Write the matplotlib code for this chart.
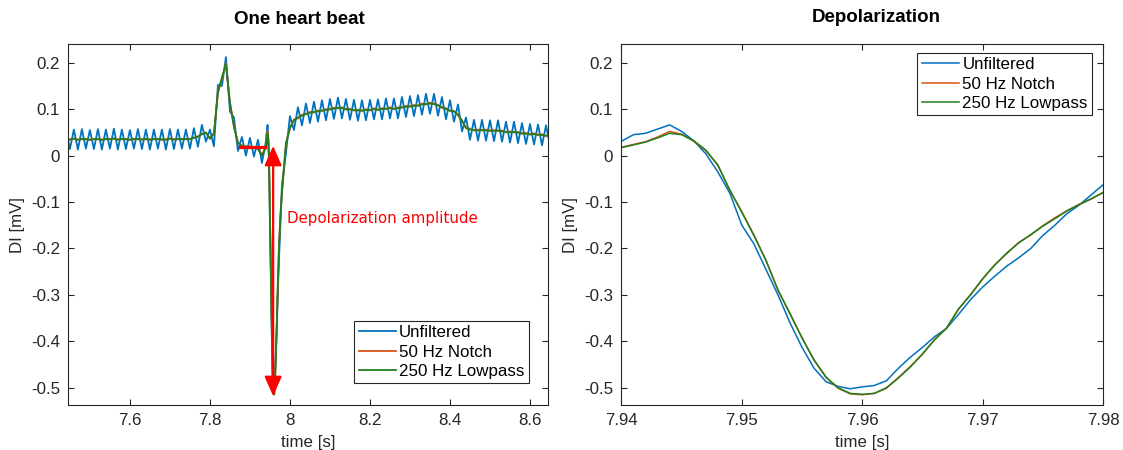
import matplotlib
matplotlib.use("Agg")
import matplotlib.pyplot as plt
import numpy as np

plt.rcParams['font.family'] = ['Liberation Sans', 'DejaVu Sans']
plt.rcParams['axes.unicode_minus'] = False

# sample times: coarse grid for the whole beat, fine grid for the depolarization
t_beat = np.round(7.44 + 0.01 * np.arange(122), 2)
t_zoom = np.round(7.94 + 0.001 * np.arange(41), 3)

# one heart beat, 7.44 .. 8.65 s (values in mV)
unfiltered_beat = [
    0.055, 0.014, 0.056, 0.013, 0.057, 0.015, 0.055, 0.014, 0.057, 0.013,
    0.056, 0.015, 0.058, 0.013, 0.056, 0.014, 0.055, 0.015, 0.057, 0.014,
    0.056, 0.013, 0.056, 0.015, 0.056, 0.013, 0.057, 0.014, 0.056, 0.015,
    0.056, 0.015, 0.059, 0.019, 0.066, 0.030, 0.056, 0.020, 0.152, 0.150,
    0.212, 0.095, 0.082, 0.010, 0.040, 0.000, 0.038, -0.002, 0.034, -0.016,
    0.031, -0.142, -0.499, -0.288, -0.064, 0.005, 0.085, 0.055, 0.104, 0.065,
    0.112, 0.070, 0.116, 0.073, 0.119, 0.076, 0.122, 0.079, 0.125, 0.080,
    0.122, 0.077, 0.120, 0.075, 0.119, 0.076, 0.120, 0.078, 0.121, 0.078,
    0.123, 0.080, 0.123, 0.080, 0.126, 0.083, 0.128, 0.085, 0.130, 0.088,
    0.133, 0.090, 0.133, 0.086, 0.126, 0.078, 0.119, 0.073, 0.110, 0.052,
    0.082, 0.034, 0.077, 0.032, 0.077, 0.032, 0.076, 0.031, 0.076, 0.030,
    0.073, 0.028, 0.073, 0.027, 0.070, 0.025, 0.068, 0.024, 0.067, 0.022,
    0.065, 0.022,
]
notch_beat = [
    0.035, 0.034, 0.037, 0.034, 0.035, 0.036, 0.034, 0.035, 0.036, 0.034,
    0.035, 0.036, 0.036, 0.035, 0.035, 0.036, 0.034, 0.035, 0.036, 0.034,
    0.035, 0.035, 0.036, 0.035, 0.034, 0.035, 0.037, 0.034, 0.036, 0.035,
    0.036, 0.035, 0.039, 0.040, 0.047, 0.049, 0.038, 0.046, 0.138, 0.165,
    0.199, 0.112, 0.064, 0.027, 0.022, 0.019, 0.020, 0.017, 0.015, 0.002,
    0.018, -0.106, -0.514, -0.266, -0.081, 0.027, 0.058, 0.078, 0.080, 0.088,
    0.089, 0.094, 0.093, 0.097, 0.096, 0.100, 0.099, 0.103, 0.102, 0.104,
    0.099, 0.101, 0.097, 0.099, 0.096, 0.100, 0.097, 0.102, 0.098, 0.102,
    0.100, 0.104, 0.100, 0.104, 0.103, 0.107, 0.105, 0.109, 0.107, 0.112,
    0.110, 0.114, 0.112, 0.109, 0.103, 0.102, 0.096, 0.096, 0.087, 0.076,
    0.059, 0.058, 0.054, 0.056, 0.054, 0.056, 0.053, 0.055, 0.053, 0.054,
    0.050, 0.052, 0.050, 0.051, 0.047, 0.049, 0.045, 0.048, 0.044, 0.046,
    0.042, 0.045,
]
lowpass_beat = [
    0.034, 0.035, 0.036, 0.034, 0.036, 0.035, 0.034, 0.036, 0.035, 0.034,
    0.036, 0.035, 0.037, 0.034, 0.036, 0.035, 0.034, 0.036, 0.035, 0.035,
    0.036, 0.034, 0.035, 0.036, 0.035, 0.034, 0.036, 0.035, 0.035, 0.036,
    0.035, 0.036, 0.038, 0.041, 0.046, 0.050, 0.036, 0.048, 0.135, 0.168,
    0.197, 0.115, 0.062, 0.028, 0.020, 0.020, 0.018, 0.018, 0.014, 0.000,
    0.017, -0.108, -0.515, -0.268, -0.080, 0.025, 0.060, 0.076, 0.082, 0.086,
    0.090, 0.092, 0.094, 0.095, 0.097, 0.098, 0.100, 0.101, 0.103, 0.102,
    0.100, 0.099, 0.098, 0.097, 0.097, 0.098, 0.098, 0.100, 0.099, 0.100,
    0.101, 0.102, 0.101, 0.102, 0.104, 0.105, 0.106, 0.107, 0.108, 0.110,
    0.111, 0.112, 0.111, 0.108, 0.104, 0.100, 0.097, 0.095, 0.088, 0.074,
    0.060, 0.056, 0.055, 0.054, 0.055, 0.054, 0.054, 0.053, 0.054, 0.052,
    0.051, 0.050, 0.051, 0.049, 0.048, 0.047, 0.046, 0.046, 0.045, 0.044,
    0.043, 0.044,
]

# depolarization, 7.940 .. 7.980 s in 1 ms steps
unfiltered_zoom = [
    0.031, 0.045, 0.048, 0.057, 0.066, 0.052, 0.032, 0.004, -0.035, -0.081,
    -0.150, -0.190, -0.245, -0.300, -0.360, -0.413, -0.458, -0.487, -0.497, -0.502,
    -0.498, -0.495, -0.485, -0.458, -0.434, -0.413, -0.390, -0.372, -0.342, -0.310,
    -0.283, -0.260, -0.238, -0.220, -0.200, -0.172, -0.150, -0.125, -0.107, -0.085,
    -0.063,
]
notch_zoom = [
    0.018, 0.024, 0.030, 0.040, 0.052, 0.046, 0.031, 0.011, -0.021, -0.074,
    -0.121, -0.171, -0.226, -0.289, -0.341, -0.392, -0.441, -0.478, -0.501, -0.513,
    -0.515, -0.512, -0.501, -0.478, -0.454, -0.428, -0.396, -0.371, -0.331, -0.299,
    -0.266, -0.235, -0.211, -0.187, -0.171, -0.151, -0.134, -0.119, -0.105, -0.094,
    -0.079,
]
lowpass_zoom = [
    0.017, 0.023, 0.029, 0.038, 0.048, 0.045, 0.032, 0.012, -0.020, -0.075,
    -0.122, -0.172, -0.225, -0.290, -0.340, -0.393, -0.440, -0.477, -0.500, -0.512,
    -0.514, -0.512, -0.500, -0.479, -0.455, -0.427, -0.397, -0.372, -0.330, -0.300,
    -0.265, -0.236, -0.210, -0.188, -0.170, -0.152, -0.136, -0.119, -0.106, -0.093,
    -0.080,
]

series_labels = ['Unfiltered', '50 Hz Notch', '250 Hz Lowpass']
series_colors = ['#0072BD', '#D95319', '#1F7F1F']

yticks = [-0.5, -0.4, -0.3, -0.2, -0.1, 0.0, 0.1, 0.2]
ytick_labels = ['-0.5', '-0.4', '-0.3', '-0.2', '-0.1', '0', '0.1', '0.2']
beat_xticks = [7.6, 7.8, 8.0, 8.2, 8.4, 8.6]
beat_xtick_labels = ['7.6', '7.8', '8', '8.2', '8.4', '8.6']
zoom_xticks = [7.94, 7.95, 7.96, 7.97, 7.98]
zoom_xtick_labels = ['7.94', '7.95', '7.96', '7.97', '7.98']

# amplitude annotation (baseline level and depolarization minimum)
baseline_t = [7.875, 7.9375]
baseline_level = 0.018
arrow_t = 7.958
arrow_top = 0.021
arrow_bottom = -0.518

# merge coarse and fine samples for the full beat
keep = (t_beat < 7.94) | (t_beat > 7.98)
order = np.argsort(np.concatenate([t_beat[keep], t_zoom]))
t_full = np.concatenate([t_beat[keep], t_zoom])[order]
beat_series = [
    np.concatenate([np.array(s)[keep], z])[order]
    for s, z in zip([unfiltered_beat, notch_beat, lowpass_beat],
                    [unfiltered_zoom, notch_zoom, lowpass_zoom])
]
zoom_series = [unfiltered_zoom, notch_zoom, lowpass_zoom]

fig = plt.figure(figsize=(11.23, 4.5), dpi=100)
ax1 = fig.add_axes([0.0608, 0.1, 0.4272, 0.802])
ax2 = fig.add_axes([0.5534, 0.1, 0.4288, 0.802])

axis_color = '#262626'
for ax in (ax1, ax2):
    for sp in ax.spines.values():
        sp.set_color(axis_color)
        sp.set_linewidth(0.8)
    ax.tick_params(direction='in', length=4, width=0.8, color=axis_color,
                   labelcolor=axis_color, labelsize=12.2, top=True, right=True, pad=6)
    ax.set_ylim(-0.537, 0.24)
    ax.set_yticks(yticks)
    ax.set_yticklabels(ytick_labels)
    ax.set_ylabel('DI [mV]', fontsize=12.2, color=axis_color, labelpad=4)
    ax.set_xlabel('time [s]', fontsize=12.2, color=axis_color, labelpad=5)

# left: one heart beat
for y, lab, col in zip(beat_series, series_labels, series_colors):
    ax1.plot(t_full, y, color=col, lw=1.3, label=lab)
ax1.set_xlim(7.446, 8.645)
ax1.set_xticks(beat_xticks)
ax1.set_xticklabels(beat_xtick_labels)

ax1.plot(baseline_t, [baseline_level, baseline_level], color='red', lw=2.3)
ax1.annotate('', xy=(arrow_t, arrow_bottom), xytext=(arrow_t, arrow_top),
             arrowprops=dict(arrowstyle='<|-|>,head_length=0.8,head_width=0.35',
                             color='red', lw=1.6, shrinkA=0, shrinkB=0,
                             mutation_scale=15))
ax1.text(7.993, -0.135, 'Depolarization amplitude', color='red',
         fontsize=10.8, family='DejaVu Sans', va='center', ha='left')

leg1 = ax1.legend(loc='lower right', bbox_to_anchor=(0.96, 0.061), borderaxespad=0,
                  fontsize=12.2, handlelength=2.2, handletextpad=0.2,
                  labelspacing=0.25, borderpad=0.25, fancybox=False,
                  edgecolor=axis_color, framealpha=1)
leg1.get_frame().set_linewidth(0.8)

# right: depolarization detail
for y, lab, col in zip(zoom_series, series_labels, series_colors):
    ax2.plot(t_zoom, y, color=col, lw=1.1, label=lab)
ax2.set_xlim(7.94, 7.98)
ax2.set_xticks(zoom_xticks)
ax2.set_xticklabels(zoom_xtick_labels)

leg2 = ax2.legend(loc='upper right', bbox_to_anchor=(0.977, 0.975), borderaxespad=0,
                  fontsize=12.2, handlelength=2.2, handletextpad=0.2,
                  labelspacing=0.25, borderpad=0.25, fancybox=False,
                  edgecolor=axis_color, framealpha=1)
leg2.get_frame().set_linewidth(0.8)

fig.text(299 / 1123, 1 - 20 / 450, 'One heart beat', fontsize=13.5,
         fontweight='bold', ha='center', va='center')
fig.text(876 / 1123, 1 - 17 / 450, 'Depolarization', fontsize=13.5,
         fontweight='bold', ha='center', va='center')

fig.savefig('out.png', dpi=100)
